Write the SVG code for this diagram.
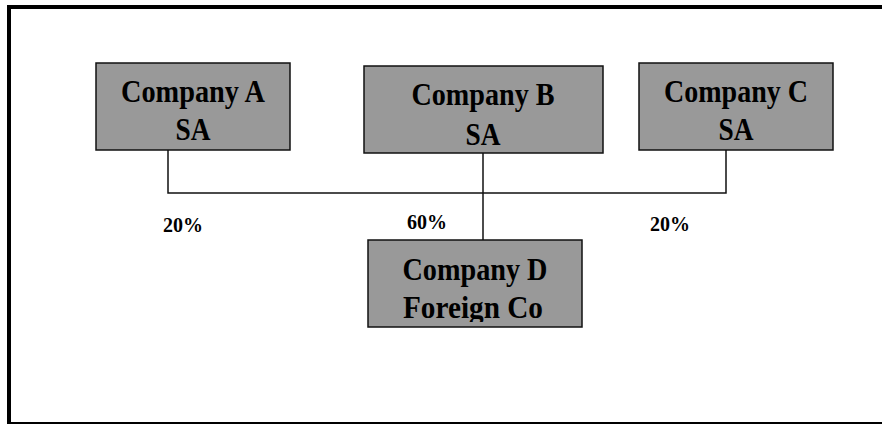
<svg xmlns="http://www.w3.org/2000/svg" width="882" height="424" viewBox="0 0 882 424">
<style>
.box{fill:#999999;stroke:#111;stroke-width:1.5}
.t{font-family:"Liberation Serif","Times New Roman",serif;font-weight:bold;font-size:31px;fill:#000;text-anchor:middle}
.pct{font-family:"Liberation Serif","Times New Roman",serif;font-weight:bold;font-size:20px;fill:#000}
.conn{fill:none;stroke:#111;stroke-width:1.5}
</style>
<defs>
<clipPath id="clipD"><rect x="368" y="240" width="214" height="82"/></clipPath>
</defs>
<rect width="882" height="424" fill="#fff"/>
<g id="frame">
<line x1="7" y1="7" x2="882" y2="7" stroke="#000" stroke-width="4"/>
<line x1="9" y1="5" x2="9" y2="424" stroke="#000" stroke-width="4"/>
<line x1="7" y1="423" x2="882" y2="423" stroke="#000" stroke-width="2"/>
</g>
<g id="connectors">
<path class="conn" d="M168,150 V193 H726 V150"/>
<path class="conn" d="M483,153 V240"/>
</g>
<g id="companyA">
<rect class="box" x="96" y="63" width="194" height="87"/>
<text class="t" x="193" y="102" textLength="144" lengthAdjust="spacingAndGlyphs">Company A</text>
<text class="t" x="193" y="140" textLength="35" lengthAdjust="spacingAndGlyphs">SA</text>
</g>
<g id="companyB">
<rect class="box" x="364" y="66" width="239" height="87"/>
<text class="t" x="483" y="105" textLength="143" lengthAdjust="spacingAndGlyphs">Company B</text>
<text class="t" x="483" y="145" textLength="35" lengthAdjust="spacingAndGlyphs">SA</text>
</g>
<g id="companyC">
<rect class="box" x="639" y="63" width="194" height="87"/>
<text class="t" x="736" y="102" textLength="144" lengthAdjust="spacingAndGlyphs">Company C</text>
<text class="t" x="736" y="140" textLength="35" lengthAdjust="spacingAndGlyphs">SA</text>
</g>
<g id="companyD">
<rect class="box" x="368" y="240" width="214" height="87"/>
<g clip-path="url(#clipD)">
<text class="t" x="475" y="280" textLength="145" lengthAdjust="spacingAndGlyphs">Company D</text>
<text class="t" x="473" y="318" textLength="140" lengthAdjust="spacingAndGlyphs">Foreign Co</text>
</g>
</g>
<g id="labels">
<text class="pct" x="163" y="232">20%</text>
<text class="pct" x="407" y="229">60%</text>
<text class="pct" x="650" y="231">20%</text>
</g>
</svg>
